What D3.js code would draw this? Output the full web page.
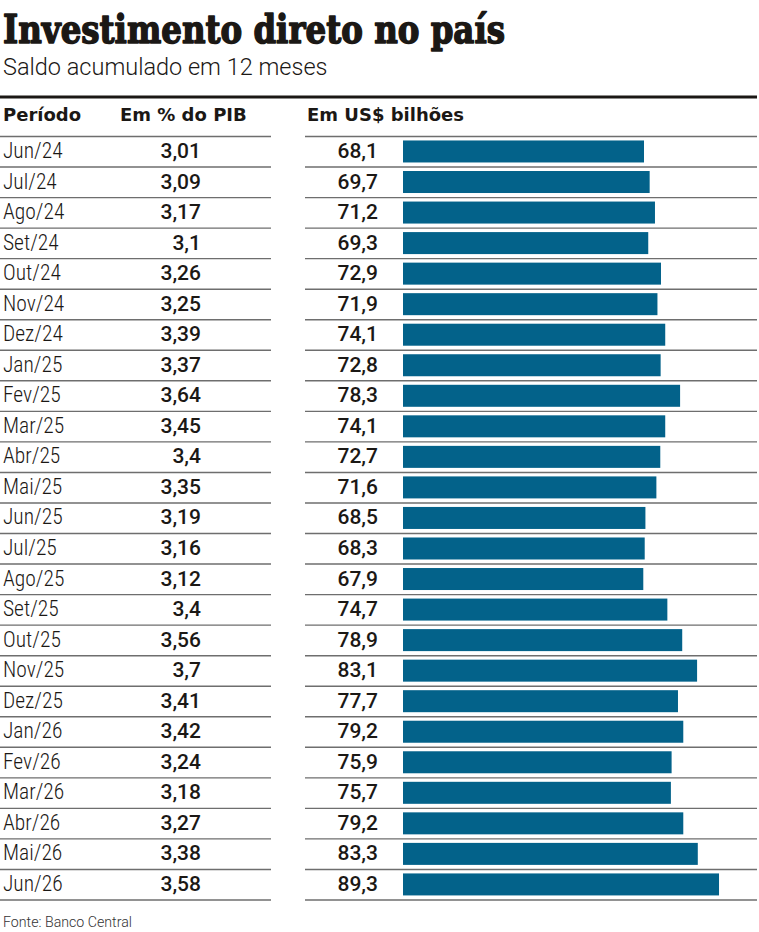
<!DOCTYPE html>
<html>
<head>
<meta charset="utf-8">
<script src="https://cdn.jsdelivr.net/npm/d3@7"></script>
<style>
  html, body { margin: 0; padding: 0; background: #fff; }
  svg { display: block; }
</style>
</head>
<body>
<div id="chart"></div>
<script>
// Dados
const periods = ["Jun/24", "Jul/24", "Ago/24", "Set/24", "Out/24", "Nov/24", "Dez/24",
  "Jan/25", "Fev/25", "Mar/25", "Abr/25", "Mai/25", "Jun/25", "Jul/25", "Ago/25",
  "Set/25", "Out/25", "Nov/25", "Dez/25", "Jan/26", "Fev/26", "Mar/26", "Abr/26",
  "Mai/26", "Jun/26"];
const pibPct = [3.01, 3.09, 3.17, 3.1, 3.26, 3.25, 3.39, 3.37, 3.64, 3.45, 3.4, 3.35,
  3.19, 3.16, 3.12, 3.4, 3.56, 3.7, 3.41, 3.42, 3.24, 3.18, 3.27, 3.38, 3.58];
const usdBi = [68.1, 69.7, 71.2, 69.3, 72.9, 71.9, 74.1, 72.8, 78.3, 74.1, 72.7, 71.6,
  68.5, 68.3, 67.9, 74.7, 78.9, 83.1, 77.7, 79.2, 75.9, 75.7, 79.2, 83.3, 89.3];
const headers = ["Período", "Em % do PIB", "Em US$ bilhões"];

const width = 759, height = 932;
const ink = "#1b1815";
const barColor = "#03628a";
const condensed = "'Liberation Sans Narrow', 'Roboto Condensed', 'Arial Narrow', sans-serif";
const sans = "Roboto, 'Open Sans', sans-serif";

const rows = periods.map((p, i) => ({period: p, pib: pibPct[i], usd: usdBi[i]}));
const fmt = v => String(v).replace(".", ",");

const svg = d3.select("#chart").append("svg")
  .attr("width", width)
  .attr("height", height)
  .attr("viewBox", [0, 0, width, height]);

// Escalas
const y = d3.scaleBand()
  .domain(periods)
  .range([136.5, 900]);

const x = d3.scaleLinear()
  .domain([0, 90])
  .range([403, 721.5]);

// Título
svg.append("text")
  .attr("x", 3)
  .attr("y", 43)
  .attr("font-family", "'DejaVu Serif', serif")
  .attr("font-weight", "bold")
  .attr("font-size", 40)
  .attr("textLength", 502)
  .attr("lengthAdjust", "spacingAndGlyphs")
  .attr("fill", ink)
  .attr("stroke", ink)
  .attr("stroke-width", 1.6)
  .attr("stroke-linejoin", "round")
  .text("Investimento direto no país");

svg.append("text")
  .attr("x", 3)
  .attr("y", 74.5)
  .attr("font-family", sans)
  .attr("font-weight", 300)
  .attr("font-size", 23.5)
  .attr("fill", ink)
  .text("Saldo acumulado em 12 meses");

// Linha grossa
svg.append("rect")
  .attr("x", 0)
  .attr("y", 95.5)
  .attr("width", 757)
  .attr("height", 3)
  .attr("fill", ink);

// Cabeçalho
const headerX = [3, 120, 307];
svg.append("g")
  .selectAll("text")
  .data(headers)
  .join("text")
  .attr("x", (d, i) => headerX[i])
  .attr("y", 121)
  .attr("font-family", "'DejaVu Sans', sans-serif")
  .attr("font-weight", "bold")
  .attr("font-size", 18)
  .attr("fill", ink)
  .text(d => d);

// Linhas separadoras
const sepYs = periods.map(p => y(p)).concat([y.range()[1]]);
const seps = svg.append("g")
  .attr("stroke", "#6e6e6e")
  .attr("stroke-width", 1.4);
seps.selectAll("line.l")
  .data(sepYs)
  .join("line")
  .attr("class", "l")
  .attr("x1", 0).attr("x2", 271)
  .attr("y1", d => d).attr("y2", d => d);
seps.selectAll("line.r")
  .data(sepYs)
  .join("line")
  .attr("class", "r")
  .attr("x1", 305).attr("x2", 757)
  .attr("y1", d => d).attr("y2", d => d);

// Linhas da tabela
const row = svg.append("g")
  .selectAll("g")
  .data(rows)
  .join("g")
  .attr("transform", d => `translate(0,${y(d.period)})`);

const baseline = 21.5;

row.append("text")
  .attr("x", 3)
  .attr("y", baseline)
  .attr("font-family", condensed)
  .attr("font-weight", 300)
  .attr("font-size", 21.5)
  .attr("fill", ink)
  .text(d => d.period);

row.append("text")
  .attr("x", 201)
  .attr("y", baseline)
  .attr("text-anchor", "end")
  .attr("font-family", sans)
  .attr("font-weight", 500)
  .attr("font-size", 21)
  .attr("fill", ink)
  .text(d => fmt(d.pib));

row.append("text")
  .attr("x", 378)
  .attr("y", baseline)
  .attr("text-anchor", "end")
  .attr("font-family", sans)
  .attr("font-weight", 500)
  .attr("font-size", 21)
  .attr("fill", ink)
  .text(d => fmt(d.usd));

const barH = 22;
row.append("rect")
  .attr("x", x(0))
  .attr("y", (y.bandwidth() - barH) / 2 - 0.3)
  .attr("width", d => x(d.usd) - x(0))
  .attr("height", barH)
  .attr("fill", barColor);

// Fonte
svg.append("text")
  .attr("x", 3)
  .attr("y", 927)
  .attr("font-family", sans)
  .attr("font-weight", 300)
  .attr("font-size", 14.2)
  .attr("fill", "#333")
  .text("Fonte: Banco Central");
</script>
</body>
</html>
